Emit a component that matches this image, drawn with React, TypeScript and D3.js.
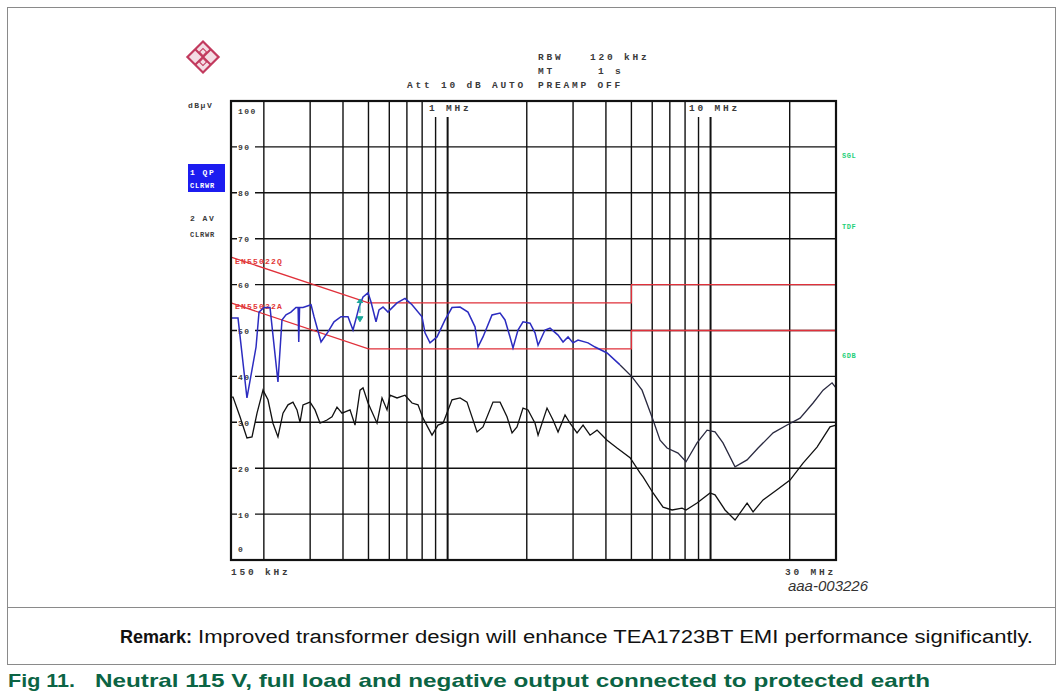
import React from "react";
import * as d3 from "d3";

// ---- data ----
const gridFreqs = [0.2, 0.3, 0.4, 0.5, 0.6, 0.7, 0.8, 0.9, 1, 2, 3, 4, 5, 6, 7, 8, 9, 10, 20];
const gridLevels = [10, 20, 30, 40, 50, 60, 70, 80, 90];

const qpLimitFreq = [0.15, 0.5, 5, 5, 30];
const qpLimitVal = [66, 56, 56, 60, 60];
const avLimitFreq = [0.15, 0.5, 5, 5, 30];
const avLimitVal = [56, 46, 46, 50, 50];

const qpFreq = [
  0.15, 0.1595, 0.1725, 0.1868, 0.1917, 0.2002, 0.2111, 0.2263, 0.2344, 0.2428, 0.2536, 0.265, 0.27, 0.2715,
  0.2735, 0.2818, 0.3024, 0.3104, 0.33, 0.3508, 0.3697, 0.393, 0.4179, 0.4366, 0.4523, 0.4603, 0.4767, 0.4981,
  0.5113, 0.5341, 0.5484, 0.5679, 0.5933, 0.6037, 0.642, 0.6885, 0.7322, 0.7991, 0.8203, 0.8569, 0.9112, 0.9776,
  1.039, 1.115, 1.195, 1.271, 1.305, 1.363, 1.475, 1.583, 1.653, 1.727, 1.773, 1.852, 1.935, 2.058, 2.15, 2.208,
  2.346, 2.452, 2.63, 2.748, 2.871, 2.999, 3.133, 3.42, 3.637, 4.04, 4.527,
];
const qpVal = [
  52.7, 52.7, 35.3, 46.4, 54, 55, 55, 38.8, 52.3, 53.4, 54, 55, 55, 47.5,
  55, 55, 55.6, 53, 47.5, 49.7, 51.9, 53, 53, 50.1, 53.4, 55.1, 57.3, 58.2,
  56.2, 51.9, 54.5, 55.1, 54, 54.5, 56, 57, 55.6, 53, 49.5, 47.3, 48.6, 52.3,
  55, 55.1, 54, 50.8, 46.4, 48.6, 53.4, 53.8, 52.3, 48.6, 46.2, 50.1, 51.9, 51.6, 49.5, 46.8,
  50.1, 50.5, 49, 47.5, 48.6, 47.3, 47.9, 47.3, 46.4, 45.1, 42.5,
];
const qpTailFreq = [
  4.527, 5.028, 5.488, 6.044, 6.426, 6.832, 7.522, 8.068, 8.884, 9.7, 10.4, 11.15, 12.39, 13.77, 15.16,
  17.3, 19.55, 21.9, 24.54, 26.79, 28.98, 30,
];
const qpTailVal = [
  42.5, 39.9, 37, 30.5, 26.1, 24.4, 23.3, 21.4, 25.5, 28.3, 27.9, 25.5, 20.3, 21.8, 24.4,
  27.7, 29.4, 30.9, 34.2, 37, 38.6, 37.5,
];

const avFreq = [
  0.15, 0.1527, 0.1623, 0.1725, 0.1803, 0.1884, 0.1985, 0.2074, 0.2166, 0.2263, 0.2365, 0.2471, 0.2581, 0.2674,
  0.2745, 0.2818, 0.2997, 0.3131, 0.3272, 0.3477, 0.3633, 0.3795, 0.3965, 0.4254, 0.4444, 0.4644, 0.4767, 0.4981,
  0.5388, 0.563, 0.5881, 0.6037, 0.642, 0.6885, 0.7322, 0.7716, 0.8061, 0.8721, 0.9193, 0.9606, 1.039, 1.115,
  1.185, 1.294, 1.363, 1.488, 1.583, 1.682, 1.758, 1.836, 1.935, 2.022, 2.15, 2.208, 2.388, 2.517, 2.63, 2.796,
  2.921, 3.106, 3.274, 3.481, 3.7, 4.04, 4.409, 4.941, 5.392, 5.536, 6.044, 6.597, 7.139, 7.791, 8.068, 8.884,
  9.956, 10.4, 11.35, 12.39, 13.77, 14.51, 15.84, 17.9, 20.06, 22.48, 25.41, 28.47, 30,
];
const avVal = [
  35.5, 35.5, 31.2, 26.6, 26.8, 32, 37, 34.9, 29.8, 26.8, 32, 33.8, 34.4, 32.7,
  30, 33.8, 34.4, 32.7, 29.8, 30.5, 31.2, 33.3, 32, 32.7, 29.4, 37, 37.5, 34.2,
  29.8, 35.3, 32.7, 35.9, 35.3, 35.9, 34.2, 33.8, 30.9, 27.2, 29.4, 29.8, 34.9, 35.3,
  34.4, 27.9, 29, 34.4, 34.4, 31.2, 27.7, 29, 33.1, 32.7, 29.8, 27.2, 33.1, 30.5, 27.9, 31.6,
  29.8, 27.7, 29.4, 27.2, 28.3, 26.1, 24.4, 22.3, 19, 18.1, 14.6, 11.5, 10.9, 11.3, 10.9, 12.4,
  14.6, 14.2, 10.9, 8.7, 12.4, 10.5, 13.1, 15.3, 17.4, 21.1, 24.6, 29, 29.4,
];

const yTickLabels = ["10", "20", "30", "40", "50", "60", "70", "80", "90"];
const rightLabels = ["SGL", "TDF", "6DB"];
const rightLabelLevels = [88.3, 72.8, 44.6];

// ---- layout ----
const X0 = 231, X1 = 836, Y0 = 560, Y1 = 101;
const mono = "'Liberation Mono', 'DejaVu Sans Mono', monospace";
const sans = "'Liberation Sans', Arial, sans-serif";

export default function App() {
  const x = d3.scaleLog().domain([0.15, 30]).range([X0, X1]);
  const y = d3.scaleLinear().domain([0, 100]).range([Y0, Y1]);
  const line = d3
    .line<[number, number]>()
    .x((d) => x(d[0]))
    .y((d) => y(d[1]));
  const zip = (a: number[], b: number[]) => a.map((v, i) => [v, b[i]] as [number, number]);

  const labelStyle = {
    fontFamily: mono,
    fontSize: 9.5,
    fontWeight: 700,
    fill: "#3a3a3a",
    letterSpacing: "2.8px",
  } as React.CSSProperties;
  const small = { ...labelStyle, fontSize: 8, letterSpacing: "1.5px" } as React.CSSProperties;

  return (
    <svg
      width={1063}
      height={699}
      style={{ position: "absolute", left: 0, top: 0, background: "#fff" }}
    >
      {/* outer box */}
      <rect x={7.5} y={7.5} width={1048} height={657} fill="none" stroke="#8a8a8a" strokeWidth={1} />
      <line x1={7.5} x2={1055.5} y1={607.5} y2={607.5} stroke="#8a8a8a" strokeWidth={1} />

      {/* logo */}
      <g transform="translate(203,57) rotate(45)">
        <rect x={-11} y={-11} width={22} height={22} fill="#f4dde4" stroke="#c23a5e" strokeWidth={2.2} />
        <line x1={-11} x2={11} y1={0} y2={0} stroke="#c23a5e" strokeWidth={2} />
        <line x1={0} x2={0} y1={-11} y2={11} stroke="#c23a5e" strokeWidth={2} />
        <rect x={-6} y={-6} width={5} height={5} fill="none" stroke="#c23a5e" strokeWidth={1} />
        <rect x={1} y={1} width={5} height={5} fill="none" stroke="#c23a5e" strokeWidth={1} />
      </g>

      {/* header */}
      <text x={538} y={60} style={labelStyle}>RBW</text>
      <text x={590} y={60} style={labelStyle}>120 kHz</text>
      <text x={538} y={74} style={labelStyle}>MT</text>
      <text x={598} y={74} style={labelStyle}>1 s</text>
      <text x={407} y={88} style={labelStyle}>Att 10 dB AUTO</text>
      <text x={538} y={88} style={labelStyle}>PREAMP OFF</text>

      {/* left labels */}
      <text x={188} y={108} style={small}>dBµV</text>
      <rect x={188} y={164} width={37} height={28} fill="#1c1cf0" />
      <text x={190} y={175} style={{ ...small, fill: "#fff" }}>1 QP</text>
      <text x={190} y={188} style={{ ...small, fill: "#fff", fontSize: 7, letterSpacing: "0.8px" }}>CLRWR</text>
      <text x={190} y={221} style={small}>2 AV</text>
      <text x={190} y={237} style={{ ...small, fontSize: 7, letterSpacing: "0.8px" }}>CLRWR</text>

      {/* right labels */}
      {rightLabels.map((t, i) => (
        <text
          key={t}
          x={842}
          y={y(rightLabelLevels[i]) + 3}
          style={{ ...labelStyle, fill: "#1fcf7a", fontSize: 7, letterSpacing: "0.5px" }}
        >
          {t}
        </text>
      ))}

      {/* horizontal grid */}
      {gridLevels.map((v) => (
        <line key={v} x1={X0} x2={X1} y1={y(v)} y2={y(v)} stroke="#111" strokeWidth={1.4} />
      ))}
      {/* vertical grid */}
      {gridFreqs.map((f) => (
        <line
          key={f}
          x1={x(f)}
          x2={x(f)}
          y1={Y1}
          y2={Y0}
          stroke="#111"
          strokeWidth={f === 1 || f === 10 ? 2 : 1.4}
        />
      ))}

      {/* masks for top labels */}
      <rect x={428} y={Y1 + 1} width={44} height={15} fill="#fff" />
      <rect x={689} y={Y1 + 1} width={46} height={15} fill="#fff" />
      <text x={429} y={111} style={labelStyle}>1 MHz</text>
      <text x={689} y={111} style={labelStyle}>10 MHz</text>

      {/* y tick labels */}
      {yTickLabels.map((t) => (
        <g key={t}>
          <rect x={237} y={y(+t) - 5} width={18} height={10} fill="#fff" />
          <text x={238} y={y(+t) + 3.5} style={small}>
            {t}
          </text>
        </g>
      ))}
      <text x={238} y={y(97.9) + 3.5} style={small}>100</text>
      <text x={238} y={y(2.4) + 3.5} style={small}>0</text>

      {/* limit lines */}
      <path d={line(zip(qpLimitFreq, qpLimitVal)) || ""} fill="none" stroke="#e0303a" strokeWidth={1.3} />
      <path d={line(zip(avLimitFreq, avLimitVal)) || ""} fill="none" stroke="#e0303a" strokeWidth={1.3} />
      <text x={235} y={264} style={{ ...small, fill: "#e23838", letterSpacing: "1.2px" }}>EN55022Q</text>
      <text x={235} y={309} style={{ ...small, fill: "#e23838", letterSpacing: "1.2px" }}>EN55022A</text>

      {/* traces */}
      <path d={line(zip(avFreq, avVal)) || ""} fill="none" stroke="#111" strokeWidth={1.3} />
      <path d={line(zip(qpTailFreq, qpTailVal)) || ""} fill="none" stroke="#2a2a40" strokeWidth={1.3} />
      <path d={line(zip(qpFreq, qpVal)) || ""} fill="none" stroke="#2c2cc0" strokeWidth={1.5} />
      {/* marker */}
      <path
        d={`M${x(0.452)},${y(56)} l3,-4 l3,4 M${x(0.452) + 3},${y(56)} l0,10 M${x(0.452)},${y(53)} l3,5 l3,-5 z`}
        fill="#1aa89a"
        stroke="#1aa89a"
        strokeWidth={1}
      />

      {/* frame */}
      <rect x={X0} y={Y1} width={X1 - X0} height={Y0 - Y1} fill="none" stroke="#111" strokeWidth={2.2} />

      {/* bottom axis labels */}
      <text x={231} y={575} style={labelStyle}>150 kHz</text>
      <text x={785} y={575} style={labelStyle}>30 MHz</text>
      <text
        x={868}
        y={591}
        textAnchor="end"
        style={{ fontFamily: sans, fontStyle: "italic", fontSize: 15, fill: "#333" }}
      >
        aaa-003226
      </text>

      {/* remark and title */}
      <text x={120} y={643} style={{ fontFamily: sans, fontSize: 18, fontWeight: 700, fill: "#111" }}>
        Remark:
      </text>
      <text
        x={198}
        y={643}
        textLength={835}
        lengthAdjust="spacingAndGlyphs"
        style={{ fontFamily: sans, fontSize: 18, fill: "#111" }}
      >
        Improved transformer design will enhance TEA1723BT EMI performance significantly.
      </text>
      <text
        x={8}
        y={687}
        textLength={67}
        lengthAdjust="spacingAndGlyphs"
        style={{ fontFamily: sans, fontSize: 19, fontWeight: 700, fill: "#0b6444" }}
      >
        Fig 11.
      </text>
      <text
        x={95}
        y={687}
        textLength={835}
        lengthAdjust="spacingAndGlyphs"
        style={{ fontFamily: sans, fontSize: 19, fontWeight: 700, fill: "#0b6444" }}
      >
        Neutral 115 V, full load and negative output connected to protected earth
      </text>
    </svg>
  );
}
